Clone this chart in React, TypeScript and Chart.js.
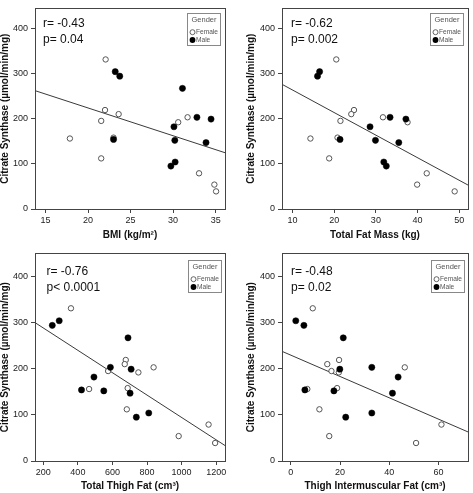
import React, { useEffect, useRef } from "react";
import { Chart, registerables } from "chart.js";

Chart.register(...registerables);

// ---------------- DATA ----------------
// Citrate synthase per subject (same subjects in every panel)
const csFemale = [331, 219, 210, 195, 192, 203, 158, 156, 112, 79, 54, 39];
const csMale = [304, 294, 267, 203, 199, 182, 154, 152, 147, 104, 95];

// x values aligned with csFemale / csMale (null = not measured)
const bmiFemale = [22.07, 22.0, 23.6, 21.55, 30.6, 31.7, 23.0, 17.87, 21.55, 33.05, 34.85, 35.05];
const bmiMale = [23.2, 23.73, 31.1, 32.8, 34.46, 30.1, 23.0, 30.2, 33.87, 30.24, 29.74];

const fatMassFemale = [20.5, 24.75, 24.1, 21.5, 37.6, 31.7, 20.8, 14.3, 18.8, 42.2, 39.9, 48.9];
const fatMassMale = [16.5, 16.0, null, 33.4, 37.2, 28.6, 21.4, 29.9, 35.5, 31.9, 32.5];

const thighFatFemale = [360, 677, 671, 575, 750, 838, 688, 465, 683, 1156, 983, 1194];
const thighFatMale = [292, 252, 690, 588, 708, 493, 421, 550, 702, 810, 738];

const imatFemale = [8.9, 19.6, 14.8, 16.5, 19.5, 46.3, 18.8, 6.7, 11.6, 61.2, 15.6, 50.9];
const imatMale = [2.0, 5.3, 21.3, 32.9, 19.9, 43.6, 5.7, 17.5, 41.3, 32.9, 22.3];

// fit line (total) values at the left and right ends of each x axis
const fitLeft = [262, 276, 300, 237.7];
const fitRight = [124.6, 53, 33.5, 63];

// tick labels
const yTicks = [0, 100, 200, 300, 400];
const bmiTicks = [15, 20, 25, 30, 35];
const fatMassTicks = [10, 20, 30, 40, 50];
const thighFatTicks = [200, 400, 600, 800, 1000, 1200];
const imatTicks = [0, 20, 40, 60];

// texts
const yTitle = "Citrate Synthase (µmol/min/mg)";
const xTitles = ["BMI (kg/m²)", "Total Fat Mass (kg)", "Total Thigh Fat (cm³)", "Thigh Intermuscular Fat (cm³)"];
const rLabels = ["r= -0.43", "r= -0.62", "r= -0.76", "r= -0.48"];
const pLabels = ["p= 0.04", "p= 0.002", "p< 0.0001", "p= 0.02"];
const legendTitle = "Gender";
const legendLabels = ["Female", "Male"];

// ---------------- LAYOUT / STYLE ----------------
const FONT = "'Liberation Sans', Arial, Helvetica, sans-serif";

type Panel = {
  left: number; top: number; w: number; h: number;
  xf: (number | null)[]; xm: (number | null)[];
  xTicks: number[]; xMin: number; xMax: number; yMax: number;
  yAxisW: number; xAxisH: number; padTop: number; padRight: number;
  yTitlePad: number; xTitlePad: number;
  ann: [number, number, number];
  leg: { right: number; top: number };
  idx: number;
};

const panels: Panel[] = [
  { idx: 0, left: 0, top: 0, w: 236, h: 245, xf: bmiFemale, xm: bmiMale, xTicks: bmiTicks, xMin: 13.77, xMax: 36.1, yMax: 444,
    yAxisW: 35, xAxisH: 36, padTop: 0, padRight: 11, yTitlePad: 0, xTitlePad: 5, ann: [8, 15.7, 31.7], leg: { right: 5, top: 4.5 } },
  { idx: 1, left: 236, top: 0, w: 237, h: 245, xf: fatMassFemale, xm: fatMassMale, xTicks: fatMassTicks, xMin: 7.48, xMax: 52.1, yMax: 444,
    yAxisW: 46, xAxisH: 36, padTop: 0, padRight: 2, yTitlePad: 10.5, xTitlePad: 5, ann: [9, 15.7, 31.7], leg: { right: 5, top: 4.5 } },
  { idx: 2, left: 0, top: 245, w: 236, h: 248, xf: thighFatFemale, xm: thighFatMale, xTicks: thighFatTicks, xMin: 152, xMax: 1251, yMax: 450,
    yAxisW: 35, xAxisH: 32, padTop: 5, padRight: 11, yTitlePad: 0, xTitlePad: 2, ann: [11.5, 18.3, 34], leg: { right: 4.5, top: 6.5 } },
  { idx: 3, left: 236, top: 245, w: 237, h: 248, xf: imatFemale, xm: imatMale, xTicks: imatTicks, xMin: -3.6, xMax: 72, yMax: 450,
    yAxisW: 46, xAxisH: 32, padTop: 5, padRight: 2, yTitlePad: 10.5, xTitlePad: 2, ann: [9, 18.3, 34], leg: { right: 4, top: 6.5 } },
];

function toPoints(xs: (number | null)[], ys: number[]) {
  const out: { x: number; y: number }[] = [];
  xs.forEach((x, i) => { if (x !== null && x !== undefined) out.push({ x, y: ys[i] }); });
  return out;
}

function makeConfig(p: Panel): any {
  const female = toPoints(p.xf, csFemale);
  const male = toPoints(p.xm, csMale);

  const overlay = {
    id: "overlay" + p.idx,
    afterDraw(chart: any) {
      const ctx = chart.ctx as CanvasRenderingContext2D;
      const ca = chart.chartArea;
      ctx.save();
      // frame
      ctx.strokeStyle = "#444";
      ctx.lineWidth = 1;
      ctx.strokeRect(Math.round(ca.left) + 0.5, Math.round(ca.top) + 0.5, Math.round(ca.right - ca.left), Math.round(ca.bottom - ca.top));
      // annotations
      ctx.fillStyle = "#111";
      ctx.font = `12px ${FONT}`;
      ctx.textAlign = "left";
      ctx.textBaseline = "middle";
      ctx.fillText(rLabels[p.idx], ca.left + p.ann[0], ca.top + p.ann[1]);
      ctx.fillText(pLabels[p.idx], ca.left + p.ann[0], ca.top + p.ann[2]);
      // legend
      const lw = 33, lh = 32;
      const lx = Math.round(ca.right - p.leg.right - lw);
      const ly = Math.round(ca.top + p.leg.top);
      ctx.fillStyle = "#fff";
      ctx.fillRect(lx, ly, lw, lh);
      ctx.strokeStyle = "#888";
      ctx.strokeRect(lx + 0.5, ly + 0.5, lw, lh);
      ctx.fillStyle = "#555";
      ctx.font = `7.5px ${FONT}`;
      ctx.textAlign = "center";
      ctx.fillText(legendTitle, lx + lw / 2 + 0.5, ly + 6.8);
      ctx.font = `6.6px ${FONT}`;
      ctx.textAlign = "left";
      ctx.beginPath();
      ctx.arc(lx + 5.5, ly + 19.2, 2.5, 0, Math.PI * 2);
      ctx.fillStyle = "#fff";
      ctx.fill();
      ctx.strokeStyle = "#555";
      ctx.lineWidth = 0.9;
      ctx.stroke();
      ctx.fillStyle = "#555";
      ctx.fillText(legendLabels[0], lx + 9, ly + 19.4);
      ctx.beginPath();
      ctx.arc(lx + 5.5, ly + 27, 2.9, 0, Math.PI * 2);
      ctx.fillStyle = "#000";
      ctx.fill();
      ctx.fillStyle = "#555";
      ctx.fillText(legendLabels[1], lx + 9, ly + 27.2);
      ctx.restore();
    },
  };

  return {
    type: "scatter",
    data: {
      datasets: [
        {
          type: "line",
          data: [{ x: p.xMin, y: fitLeft[p.idx] }, { x: p.xMax, y: fitRight[p.idx] }],
          borderColor: "#3a3a3a",
          borderWidth: 1,
          pointRadius: 0,
          order: 3,
        },
        {
          data: female,
          backgroundColor: "#fff",
          borderColor: "#555",
          borderWidth: 1,
          pointRadius: 2.7,
          order: 2,
        },
        {
          data: male,
          backgroundColor: "#000",
          borderColor: "#000",
          borderWidth: 0.5,
          pointRadius: 3.1,
          order: 1,
        },
      ],
    },
    options: {
      animation: false,
      responsive: false,
      devicePixelRatio: 1,
      layout: { padding: { left: 0, top: p.padTop, right: p.padRight, bottom: 0 } },
      plugins: { legend: { display: false }, tooltip: { enabled: false } },
      scales: {
        x: {
          type: "linear",
          min: p.xMin,
          max: p.xMax,
          afterBuildTicks: (s: any) => { s.ticks = p.xTicks.map(v => ({ value: v })); },
          afterFit: (s: any) => { s.height = p.xAxisH; },
          grid: { display: true, drawOnChartArea: false, drawTicks: true, tickLength: 4, color: "#444" },
          border: { display: true, color: "#444" },
          ticks: { font: { family: FONT, size: 9 }, color: "#222", padding: 2, maxRotation: 0, autoSkip: false,
            callback: (v: any) => String(v) },
          title: {
            display: true, text: xTitles[p.idx], color: "#111",
            font: { family: FONT, size: 10, weight: "bold", lineHeight: 1 },
            padding: { top: 0, bottom: p.xTitlePad },
          },
        },
        y: {
          type: "linear",
          min: 0,
          max: p.yMax,
          afterBuildTicks: (s: any) => { s.ticks = yTicks.map(v => ({ value: v })); },
          afterFit: (s: any) => { s.width = p.yAxisW; },
          grid: { display: true, drawOnChartArea: false, drawTicks: true, tickLength: 4, color: "#444" },
          border: { display: true, color: "#444" },
          ticks: { font: { family: FONT, size: 9 }, color: "#222", padding: 3, autoSkip: false,
            callback: (v: any) => String(v) },
          title: {
            display: true, text: yTitle, color: "#111",
            font: { family: FONT, size: 10, weight: "bold", lineHeight: 1 },
            padding: { top: p.yTitlePad, bottom: 0 },
          },
        },
      },
    },
    plugins: [overlay],
  };
}

function ScatterPanel({ p }: { p: Panel }) {
  const ref = useRef<HTMLCanvasElement | null>(null);
  useEffect(() => {
    if (!ref.current) return;
    const chart = new Chart(ref.current, makeConfig(p));
    return () => chart.destroy();
  }, [p]);
  return (
    <div style={{ position: "absolute", left: p.left, top: p.top, width: p.w, height: p.h }}>
      <canvas ref={ref} width={p.w} height={p.h} style={{ display: "block", width: p.w, height: p.h }} />
    </div>
  );
}

export default function App() {
  return (
    <div style={{ position: "absolute", left: 0, top: 0, width: 473, height: 493, background: "#fff", overflow: "hidden" }}>
      {panels.map(p => <ScatterPanel key={p.idx} p={p} />)}
    </div>
  );
}
